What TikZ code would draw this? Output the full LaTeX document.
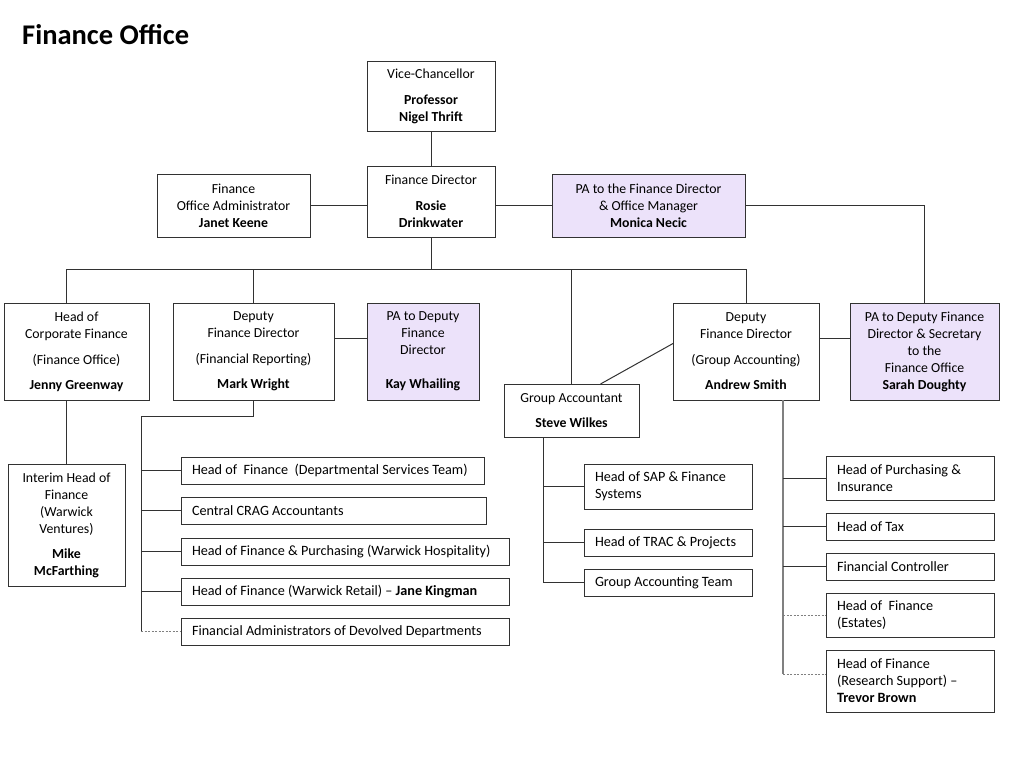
\documentclass[tikz,border=0pt]{standalone}
\usepackage{fontspec}
\setmainfont{Carlito}
\definecolor{orglinecolor}{RGB}{50,50,50}
\definecolor{orgfillcolor}{RGB}{236,226,250}
\newcommand\tightspaces{\spaceskip=0pt\relax\xspaceskip=0pt\relax}

\begin{document}
\begin{tikzpicture}[x=1pt,y=-1pt,
  unit/.style={draw=orglinecolor,line width=1pt,inner sep=0pt,outer sep=0pt,
    anchor=north west,align=center,font=\fontsize{13.8}{17}\selectfont},
  pabox/.style={unit,fill=orgfillcolor},
  post/.style={unit,align=left,inner xsep=11pt,font=\fontsize{14.2}{17}\selectfont,
    execute at begin node=\tightspaces},
  link/.style={draw=orglinecolor,line width=1pt},
  dotlink/.style={draw=gray,line width=1pt,dash pattern=on 2pt off 1.5pt}]
\useasboundingbox (0,0) rectangle (1024,768);
% title
\node[anchor=base west,inner sep=0pt,font=\fontsize{28.5}{34}\selectfont\bfseries] (title) at (22,45) {Finance Office};
% top level
\node[unit,minimum width=128,minimum height=70] (vc) at (367,61) {Vice-Chancellor\\[9pt]\textbf{Professor}\\\textbf{Nigel Thrift}};
\node[unit,minimum width=128,minimum height=71] (fd) at (367,166) {Finance Director\\[9pt]\textbf{Rosie}\\\textbf{Drinkwater}};
\node[unit,minimum width=153,minimum height=63] (adm) at (157,174) {Finance\\Office Administrator\\\textbf{Janet Keene}};
\node[pabox,minimum width=193,minimum height=63] (pafd) at (552,174) {PA to the Finance Director\\\& Office Manager\\\textbf{Monica Necic}};
% second level
\node[unit,minimum width=145,minimum height=97] (hcf) at (4,303) {Head of\\Corporate Finance\\[9pt](Finance Office)\\[8pt]\textbf{Jenny Greenway}};
\node[unit,minimum width=161,minimum height=97] (dfr) at (173,303) {Deputy\\Finance Director\\[9pt](Financial Reporting)\\[8pt]\textbf{Mark Wright}};
\node[pabox,minimum width=112,minimum height=97] (pad) at (367,303) {PA to Deputy\\Finance\\Director\\[17pt]\textbf{Kay Whailing}};
\node[unit,minimum width=135,minimum height=53] (gacc) at (504,384) {Group Accountant\\[8pt]\textbf{Steve Wilkes}};
\node[unit,minimum width=146,minimum height=97] (dga) at (673,303) {Deputy\\Finance Director\\[9pt](Group Accounting)\\[8pt]\textbf{Andrew Smith}};
\node[pabox,minimum width=149,minimum height=97] (pasd) at (850,303) {PA to Deputy Finance\\Director \& Secretary\\to the\\Finance Office\\\textbf{Sarah Doughty}};
\node[unit,minimum width=117,minimum height=122] (inter) at (8,464) {Interim Head of\\Finance\\(Warwick\\Ventures)\\[8pt]\textbf{Mike}\\\textbf{McFarthing}};
% financial reporting teams
\node[post,text width=281pt,minimum height=27] (hfd) at (181,457) {Head of\ \ Finance\ \ (Departmental Services Team)};
\node[post,text width=283pt,minimum height=27] (crag) at (181,497) {Central CRAG Accountants};
\node[post,text width=306pt,minimum height=27] (hfh) at (181,538) {Head of Finance \& Purchasing (Warwick Hospitality)};
\node[post,text width=306pt,minimum height=27] (hfr) at (181,578) {Head of Finance (Warwick Retail) -- \textbf{Jane Kingman}};
\node[post,text width=306pt,minimum height=27] (fad) at (181,618) {Financial Administrators of Devolved Departments};
% group accountant teams
\node[post,text width=146pt,minimum height=45] (sap) at (584,464) {Head of SAP \& Finance\\Systems};
\node[post,text width=146pt,minimum height=27] (trac) at (584,529) {Head of TRAC \& Projects};
\node[post,text width=146pt,minimum height=27] (gat) at (584,569) {Group Accounting Team};
% group accounting teams
\node[post,text width=146pt,minimum height=44] (hp) at (826,456) {Head of Purchasing \&\\Insurance};
\node[post,text width=146pt,minimum height=27] (tax) at (826,513) {Head of Tax};
\node[post,text width=146pt,minimum height=27] (fc) at (826,553) {Financial Controller};
\node[post,text width=146pt,minimum height=44] (hfe) at (826,593) {Head of\ \ Finance\\(Estates)};
\node[post,text width=146pt,minimum height=62] (rs) at (826,650) {Head of Finance\\(Research Support) --\\\textbf{Trevor Brown}};
% connectors
\coordinate (bus) at (0,269);
\coordinate (lspine) at (141,416);
\coordinate (mspine) at ([xshift=-28pt]gacc.south);
\coordinate (rspine) at ([xshift=37pt]dga.south);
\coordinate (rend) at ([yshift=7pt]rs.west);
\draw[link] (vc.south) -- (fd.north);
\draw[link] (adm.east) -- (adm.east -| fd.west);
\draw[link] (fd.east |- pafd.west) -- (pafd.west);
\draw[link] (pafd.east) -| (pasd.north);
\draw[link] (fd.south) -- (fd.south |- bus);
\draw[link] (inter.north |- bus) -- (dga.north |- bus);
\draw[link] (inter.north |- bus) -- (inter.north |- hcf.north);
\draw[link] (dfr.north |- bus) -- (dfr.north);
\draw[link] (gacc.north |- bus) -- (gacc.north);
\draw[link] (dga.north |- bus) -- (dga.north);
\draw[link] ([xshift=29pt]gacc.north) -- ([yshift=8pt]dga.west);
\draw[link] ([yshift=13pt]dfr.east) -- ([yshift=13pt]pad.west);
\draw[link] ([yshift=13pt]dga.east) -- ([yshift=13pt]pasd.west);
\draw[link] (inter.north |- hcf.south) -- (inter.north);
% financial reporting tree
\draw[link] (dfr.south) |- (lspine) -- (lspine |- fad.west);
\foreach \team in {hfd,crag,hfh,hfr}
  \draw[link] (lspine |- \team.west) -- (\team.west);
\draw[dotlink] (lspine |- fad.west) -- (fad.west);
% group accountant tree
\draw[link] (mspine) -- (mspine |- gat.west);
\foreach \team in {sap,trac,gat}
  \draw[link] (mspine |- \team.west) -- (\team.west);
% group accounting tree
\draw[link,draw=gray,line width=1.5pt] (rspine) -- (rspine |- rend);
\foreach \team in {hp,tax,fc}
  \draw[link] (rspine |- \team.west) -- (\team.west);
\draw[dotlink] (rspine |- hfe.west) -- (hfe.west);
\draw[dotlink] (rspine |- rend) -- (rend);
\end{tikzpicture}
\end{document}
